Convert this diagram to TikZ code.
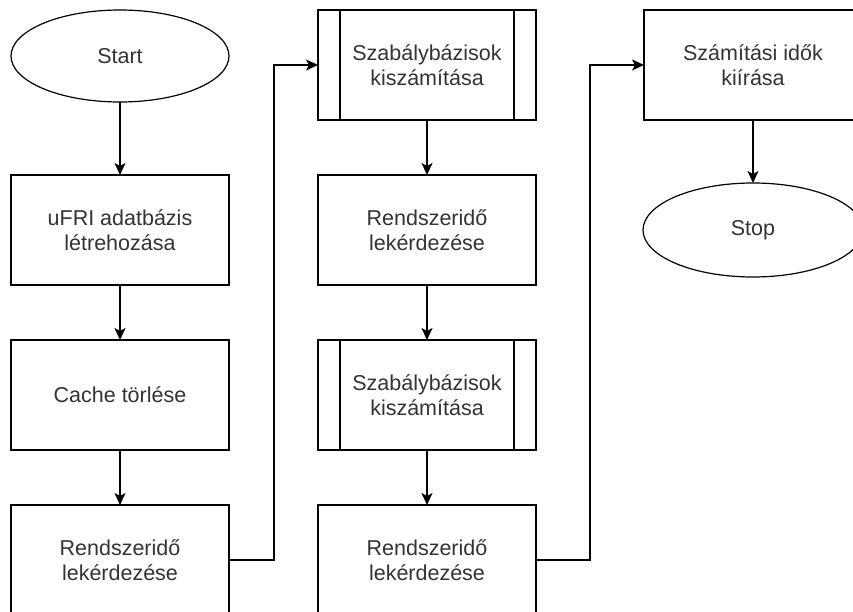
\documentclass[tikz,border=0pt]{standalone}
\usepackage{fontspec}
\setmainfont{Liberation Sans}
\usetikzlibrary{arrows.meta,shapes.geometric}
\begin{document}
\begin{tikzpicture}[x=1pt,y=-1pt,
  every node/.style={outer sep=0pt,inner sep=2pt,text=black!80,align=center,font=\fontsize{21.5}{25}\selectfont},
  procbox/.style={draw=black,line width=1.4pt,rectangle,minimum width=218pt,minimum height=110pt},
  term/.style={draw=black,line width=1.2pt,ellipse,minimum width=218pt,minimum height=92pt},
  arr/.style={draw=black,line width=1.4pt,-{Stealth[length=12pt,width=11pt,inset=3pt]}}
]
\useasboundingbox (0,0) rectangle (853,612);
\clip (0,0) rectangle (853,612);
\node[term] (start) at (120,56) {Start};
\node[procbox] (ufri) at (120,230) {uFRI adatbázis\\létrehozása};
\node[procbox] (cache) at (120,395) {Cache törlése};
\node[procbox] (r1) at (120,560) {Rendszeridő\\lekérdezése};
\node[procbox] (s1) at (427,65) {Szabálybázisok\\kiszámítása};
\node[procbox] (r2) at (427,230) {Rendszeridő\\lekérdezése};
\node[procbox] (s2) at (427,395) {Szabálybázisok\\kiszámítása};
\node[procbox] (r3) at (427,560) {Rendszeridő\\lekérdezése};
\node[procbox] (calc) at (753,65) {Számítási idők\\kiírása};
\node[term,minimum width=220pt,minimum height=94pt] (stop) at (753,230) {Stop};
\foreach \n in {s1,s2}{
  \draw[line width=1.4pt] ([xshift=22pt]\n.north west) -- ([xshift=22pt]\n.south west);
  \draw[line width=1.4pt] ([xshift=-22pt]\n.north east) -- ([xshift=-22pt]\n.south east);
}
\draw[arr] (start) -- (ufri);
\draw[arr] (ufri) -- (cache);
\draw[arr] (cache) -- (r1);
\draw[arr] (r1.east) -- ++(45,0) |- (s1.west);
\draw[arr] (s1) -- (r2);
\draw[arr] (r2) -- (s2);
\draw[arr] (s2) -- (r3);
\draw[arr] (r3.east) -- ++(54,0) |- (calc.west);
\draw[arr] (calc) -- (stop);
\end{tikzpicture}
\end{document}
